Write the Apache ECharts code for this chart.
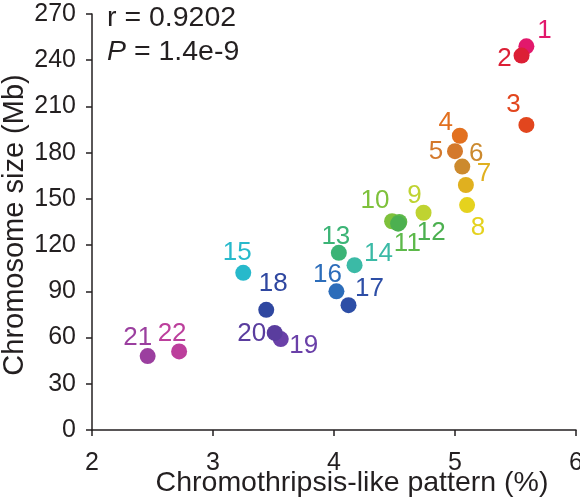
<!DOCTYPE html>
<html>
<head>
<meta charset="utf-8">
<script src="https://cdn.jsdelivr.net/npm/echarts@6/dist/echarts.min.js"></script>
<style>html,body{margin:0;padding:0;background:#fff;}#c{width:580px;height:499px;}</style>
</head>
<body>
<div id="c"></div>
<script>
// Data
var chromosomes = ['1','2','3','4','5','6','7','8','9','10','11','12','13','14','15','16','17','18','19','20','21','22'];
var pattern = [5.59,5.55,5.59,5.04,5.00,5.06,5.09,5.10,4.74,4.48,4.54,4.53,4.04,4.17,3.25,4.02,4.12,3.44,3.56,3.51,2.46,2.72];
var sizeMb  = [249,243,198,191,181,171,159,146,141,135.5,135,133.9,115,107,102,90,81,78,59,63,48,51];
var xTicks = [2,3,4,5,6];
var yTicks = [0,30,60,90,120,150,180,210,240,270];
var xTitle = 'Chromothripsis-like pattern (%)';
var yTitle = 'Chromosome size (Mb)';
var rValue = '0.9202';
var pValue = '1.4e-9';

// Styles
var colors = ['#E2186C','#DC1F35','#E2461E','#E2701F','#D4792C','#CC8A2E','#E0B01F','#E5D21E','#BFD331','#7EC13B','#5DB94A','#4CB050','#3CB476','#3BBAA6','#27B9CB','#2C6DBA','#2D4EA6','#2F47A0','#6A40A8','#5A3D9E','#9B3F9F','#BC3F9C'];
var labelOffsets = [[18,-16],[-17,3],[-13,-20],[-14,-13],[-19,1],[14,-13],[18,-11],[11,23],[-9,-17],[-17,-20],[8,22],[33,9],[-3,-16],[24,-11],[-6,-20],[-9,-17],[21,-16],[7,-26],[23,7],[-23,1],[-10,-18],[-7,-18]];
var FONT = 'Liberation Sans, Arial, sans-serif';
var INK = '#231f20';

var data = chromosomes.map(function (c, i) {
  return {
    value: [pattern[i], sizeMb[i]],
    name: c,
    itemStyle: { color: colors[i] },
    label: { show: true, position: 'inside', offset: labelOffsets[i], formatter: c, color: colors[i], fontSize: 26, fontFamily: FONT }
  };
});

var chart = echarts.init(document.getElementById('c'), null, { renderer: 'canvas' });
chart.setOption({
  animation: false,
  backgroundColor: '#fff',
  grid: { left: 92, right: 4, top: 14, bottom: 69, containLabel: false, outerBoundsMode: 'none' },
  title: [
    { text: 'r = ' + rValue, left: 107, top: 4, padding: 0, textStyle: { fontSize: 28.5, fontWeight: 'normal', color: INK, fontFamily: FONT } },
    { text: '{i|P} = ' + pValue, left: 107, top: 38, padding: 0, textStyle: { fontSize: 28.5, fontWeight: 'normal', color: INK, fontFamily: FONT, rich: { i: { fontStyle: 'italic', fontSize: 28.5, color: INK, fontFamily: FONT } } } }
  ],
  graphic: [
    { type: 'text', x: 352, y: 483, silent: true,
      style: { text: xTitle, fontSize: 28.5, fontFamily: FONT, fill: INK, align: 'center', verticalAlign: 'middle', textAlign: 'center', textVerticalAlign: 'middle' } },
    { type: 'text', x: 15, y: 225, rotation: Math.PI / 2, silent: true,
      style: { text: yTitle, fontSize: 29, fontFamily: FONT, fill: INK, align: 'center', verticalAlign: 'middle', textAlign: 'center', textVerticalAlign: 'middle' } }
  ],
  xAxis: {
    type: 'value', min: xTicks[0], max: xTicks[xTicks.length - 1], interval: 1,
    axisLine: { show: true, lineStyle: { color: INK, width: 1.5 } },
    axisTick: { show: true, length: 6, lineStyle: { color: INK, width: 1.5 } },
    axisLabel: { fontSize: 25, color: INK, fontFamily: FONT, margin: 21, showMaxLabel: true, showMinLabel: true },
    splitLine: { show: false }
  },
  yAxis: {
    type: 'value', min: yTicks[0], max: yTicks[yTicks.length - 1], interval: 30,
    axisLine: { show: true, lineStyle: { color: INK, width: 1.5 } },
    axisTick: { show: true, length: 6, lineStyle: { color: INK, width: 1.5 } },
    axisLabel: { fontSize: 25, color: INK, fontFamily: FONT, margin: 16, showMaxLabel: true, showMinLabel: true },
    splitLine: { show: false }
  },
  series: [{
    type: 'scatter',
    symbol: 'circle',
    symbolSize: 16,
    data: data,
    itemStyle: { opacity: 1 }
  }]
});
</script>
</body>
</html>
